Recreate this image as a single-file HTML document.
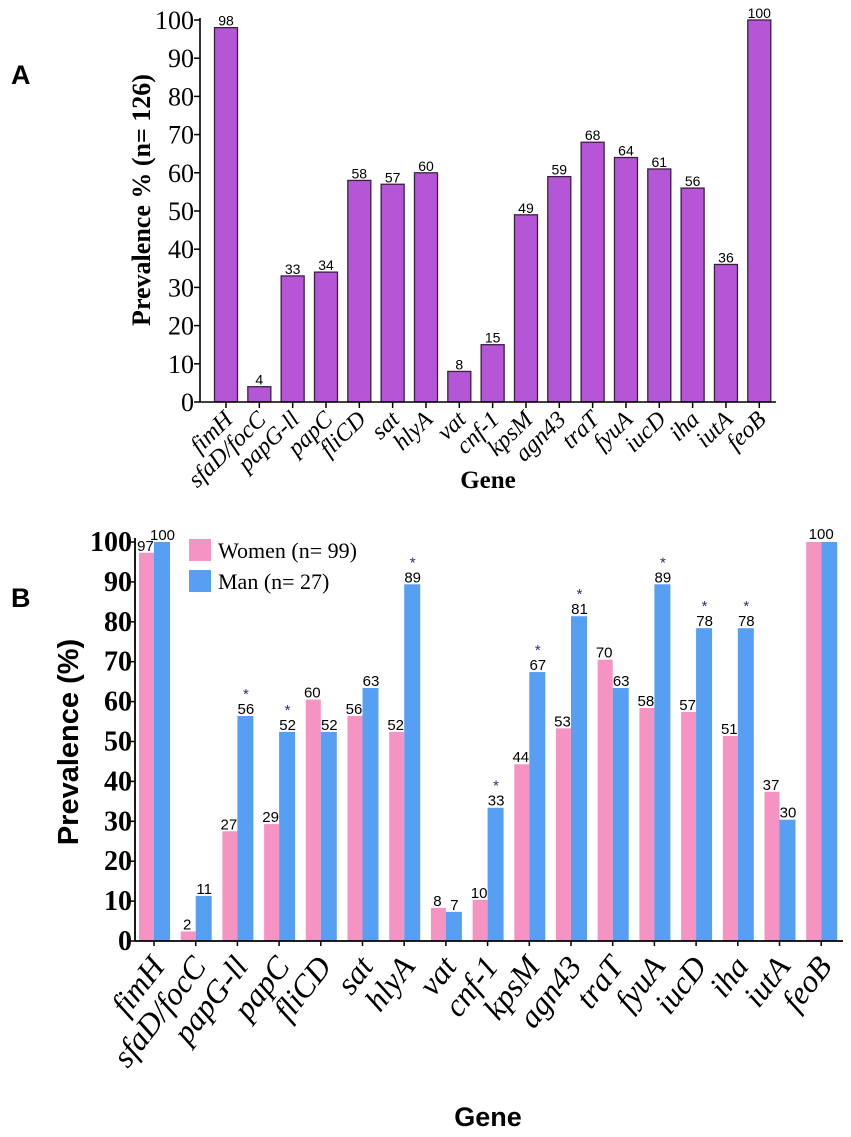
<!DOCTYPE html>
<html><head><meta charset="utf-8"><style>
html,body{margin:0;padding:0;background:#fff;}
svg{display:block;}
</style></head><body>
<svg id="fig" width="851" height="1137" viewBox="0 0 851 1137" xmlns="http://www.w3.org/2000/svg">
<text x="11" y="84" font-family="Liberation Sans, sans-serif" font-weight="bold" font-size="27">A</text>
<text x="11" y="607" font-family="Liberation Sans, sans-serif" font-weight="bold" font-size="27">B</text>
<g id="chartA"></g>
<g id="chartB"></g>
</svg>
<script>
const genes = ["fimH","sfaD/focC","papG-ll","papC","fliCD","sat","hlyA","vat","cnf-1","kpsM","agn43","traT","fyuA","iucD","iha","iutA","feoB"];
const totalVals = [98,4,33,34,58,57,60,8,15,49,59,68,64,61,56,36,100];
const womenVals = [97.3,2.4,27.5,29.3,60.5,56.4,52.4,8.3,10.3,44.3,53.3,70.5,58.4,57.4,51.4,37.4,100];
const manVals = [100,11.3,56.4,52.4,52.4,63.4,89.4,7.3,33.4,67.4,81.4,63.4,89.4,78.4,78.4,30.4,100];
const womenLabels = ["97","2","27","29","60","56","52","8","10","44","53","70","58","57","51","37",""];
const manLabels = ["100","11","56","52","52","63","89","7","33","67","81","63","89","78","78","30",""];
const significant = [false,false,true,true,false,false,true,false,true,true,true,false,true,true,true,false,false];
const yTicks = [0,10,20,30,40,50,60,70,80,90,100];

const NS="http://www.w3.org/2000/svg";
function mk(parent,tag,attrs,text){const e=document.createElementNS(NS,tag);for(const k in attrs)e.setAttribute(k,attrs[k]);if(text!==undefined)e.textContent=text;parent.appendChild(e);return e;}

// Chart A
(function(){
const g=document.getElementById('chartA');
const x0=200,x1=776,yA0=402,yA100=20;
const y=v=>yA0-(yA0-yA100)*v/100;
const cx=i=>226+i*33.33;
for(const t of yTicks){
 const tk=mk(g,'line',{x1:x0-6,x2:x0,y1:y(t),y2:y(t),stroke:'#000','stroke-width':1.5});
 
 
 const tl=mk(g,'text',{x:x0-6,y:y(t)+9,'text-anchor':'end','font-family':'Liberation Serif, serif','font-size':26},String(t));
 
 
}
genes.forEach((gn,i)=>{
 const b=mk(g,'rect',{x:cx(i)-11.5,y:y(totalVals[i]),width:23,height:yA0-y(totalVals[i]),fill:'#b556d6',stroke:'#3a2040','stroke-width':1.3});
 
 
 const v=mk(g,'text',{x:cx(i),y:y(totalVals[i])-2,'text-anchor':'middle','font-family':'Liberation Sans, sans-serif','font-size':14},String(totalVals[i]));
 
 
 const tk=mk(g,'line',{x1:cx(i),x2:cx(i),y1:yA0,y2:yA0+6,stroke:'#000','stroke-width':1.5});
 
 
 const xl=mk(g,'text',{x:0,y:0,'text-anchor':'end','font-family':'Liberation Serif, serif','font-style':'italic','font-size':24,transform:`translate(${cx(i)+8},${yA0+19}) rotate(-44)`},gn);
 
 
});
mk(g,'line',{x1:x0,x2:x0,y1:yA100-2,y2:yA0,stroke:'#000','stroke-width':1.6});
mk(g,'line',{x1:x0,x2:x1,y1:yA0,y2:yA0,stroke:'#000','stroke-width':1.6});
const yt=mk(g,'text',{x:0,y:0,'text-anchor':'middle','font-family':'Liberation Serif, serif','font-weight':'bold','font-size':26,transform:'translate(150,200) rotate(-90)'},'Prevalence % (n= 126)');


const xt=mk(g,'text',{x:488,y:488,'text-anchor':'middle','font-family':'Liberation Serif, serif','font-weight':'bold','font-size':25},'Gene');


})();

// Chart B
(function(){
const g=document.getElementById('chartB');
const x0=135,x1=843,yB0=941,yB100=542;
const y=v=>yB0-(yB0-yB100)*v/100;
const cx=i=>154+i*41.7;
const bw=15;
for(const t of yTicks){
 const tk=mk(g,'line',{x1:x0-5,x2:x0,y1:y(t),y2:y(t),stroke:'#000','stroke-width':1.5});
 
 
 const tl=mk(g,'text',{x:x0-3,y:y(t)+9,'text-anchor':'end','font-family':'Liberation Serif, serif','font-weight':'bold','font-size':28},String(t));
 
 
}
genes.forEach((gn,i)=>{
 const w=mk(g,'rect',{x:cx(i)-bw,y:y(womenVals[i]),width:bw,height:yB0-y(womenVals[i]),fill:'#f593c2'});
 
 
 const m=mk(g,'rect',{x:cx(i),y:y(manVals[i]),width:bw+1,height:yB0-y(manVals[i]),fill:'#569ff2'});
 
 
 const wl=mk(g,'text',{x:cx(i)-bw/2-1,y:y(womenVals[i])-2,'text-anchor':'middle','font-family':'Liberation Sans, sans-serif','font-size':15},womenLabels[i]);
 
 
 const ml=mk(g,'text',{x:cx(i)+bw/2+1,y:y(manVals[i])-2,'text-anchor':'middle','font-family':'Liberation Sans, sans-serif','font-size':15},manLabels[i]);
 
 
 if(significant[i]){
  const s=mk(g,'text',{x:cx(i)+bw/2+1,y:y(manVals[i])-17,'text-anchor':'middle','font-family':'Liberation Sans, sans-serif','font-size':15,fill:'#2b2b8c'},'*');
  
  
 }
 const tk=mk(g,'line',{x1:cx(i),x2:cx(i),y1:yB0,y2:yB0+5,stroke:'#000','stroke-width':1.5});
 
 
 const xl=mk(g,'text',{x:0,y:0,'text-anchor':'end','font-family':'Liberation Serif, serif','font-style':'italic','font-size':32,transform:`translate(${cx(i)+12},${yB0+26}) rotate(-52)`},gn);
 
 
});
const fl=mk(g,'text',{x:cx(16),y:y(100)-3,'text-anchor':'middle','font-family':'Liberation Sans, sans-serif','font-size':15},'100');


mk(g,'line',{x1:x0,x2:x0,y1:yB100-4,y2:yB0,stroke:'#000','stroke-width':1.8});
mk(g,'line',{x1:x0,x2:x1,y1:yB0,y2:yB0,stroke:'#000','stroke-width':1.8});
const lw=mk(g,'rect',{x:189,y:539,width:22,height:22,fill:'#f593c2'});


const lwt=mk(g,'text',{x:218,y:558,'font-family':'Liberation Serif, serif','font-size':22},'Women (n= 99)');


const lm=mk(g,'rect',{x:189,y:570,width:22,height:22,fill:'#569ff2'});


const lmt=mk(g,'text',{x:218,y:589,'font-family':'Liberation Serif, serif','font-size':22},'Man (n= 27)');


const yt=mk(g,'text',{x:0,y:0,'text-anchor':'middle','font-family':'Liberation Sans, sans-serif','font-weight':'bold','font-size':29,transform:'translate(78,742) rotate(-90)'},'Prevalence (%)');


const xt=mk(g,'text',{x:488,y:1126,'text-anchor':'middle','font-family':'Liberation Sans, sans-serif','font-weight':'bold','font-size':27},'Gene');


})();
</script>
</body></html>
